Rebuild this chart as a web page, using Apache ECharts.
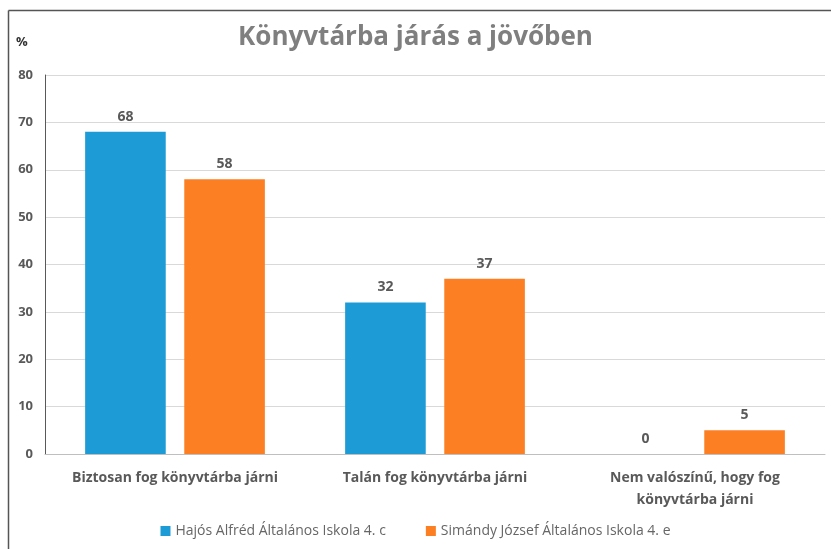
<!DOCTYPE html>
<html><head><meta charset="utf-8">
<script src="https://cdn.jsdelivr.net/npm/echarts@6/dist/echarts.min.js"></script>
<style>html,body{margin:0;padding:0;background:#fff}#c{width:831px;height:549px}</style>
</head><body><div id="c"></div>
<script>
const categories = ['Biztosan fog könyvtárba járni', 'Talán fog könyvtárba járni', 'Nem valószínű, hogy fog\nkönyvtárba járni'];
const seriesNames = ['Hajós Alfréd Általános Iskola 4. c', 'Simándy József Általános Iskola 4. e'];
const hajosValues = [68, 32, 0];
const simandyValues = [58, 37, 5];
const yTicks = [0, 10, 20, 30, 40, 50, 60, 70, 80];

const FONT = '"Open Sans", "Noto Sans", sans-serif';
const chart = echarts.init(document.getElementById('c'));
chart.setOption({
  animation: false,
  textStyle: { fontFamily: FONT },
  title: {
    text: 'Könyvtárba járás a jövőben',
    left: 'center', top: 20,
    textStyle: { fontSize: 26, fontWeight: 'bold', color: '#7f7f7f', fontFamily: FONT }
  },
  graphic: [
    { type: 'line', shape: { x1: 8.5, y1: 10.5, x2: 831, y2: 10.5 }, style: { stroke: '#555', lineWidth: 1.5 } },
    { type: 'line', shape: { x1: 8.5, y1: 10.5, x2: 8.5, y2: 549 }, style: { stroke: '#555', lineWidth: 1.5 } },
    { type: 'text', left: 16, top: 36, style: { text: '%', font: 'bold 13px ' + FONT, fill: '#333' } }
  ],
  legend: {
    bottom: 6, left: 'center', itemWidth: 10, itemHeight: 10, itemGap: 40,
    icon: 'rect',
    textStyle: { fontSize: 14, color: '#666', fontFamily: FONT }
  },
  grid: { left: 45, right: 6, top: 75, bottom: 95, containLabel: false },
  xAxis: {
    type: 'category', data: categories,
    axisLine: { lineStyle: { color: '#bfbfbf' } },
    axisTick: { show: false },
    axisLabel: { interval: 0, hideOverlap: false, fontSize: 14, fontWeight: 'bold', color: '#595959', margin: 13, lineHeight: 22, fontFamily: FONT }
  },
  yAxis: {
    type: 'value', min: yTicks[0], max: yTicks[yTicks.length - 1], interval: 10,
    axisLine: { show: true, lineStyle: { color: '#595959' } },
    axisTick: { show: false },
    splitLine: { lineStyle: { color: '#d9d9d9' } },
    axisLabel: { fontSize: 13, fontWeight: 'bold', color: '#595959', margin: 12, fontFamily: FONT }
  },
  series: [
    {
      name: seriesNames[0], type: 'bar', data: hajosValues,
      barWidth: '31%', barGap: '23%',
      itemStyle: { color: '#1c9bd7' },
      label: { show: true, position: 'top', distance: 8, fontSize: 14, fontWeight: 'bold', color: '#595959', fontFamily: FONT }
    },
    {
      name: seriesNames[1], type: 'bar', data: simandyValues,
      barWidth: '31%',
      itemStyle: { color: '#fd7f23' },
      label: { show: true, position: 'top', distance: 8, fontSize: 14, fontWeight: 'bold', color: '#595959', fontFamily: FONT }
    }
  ]
});
</script></body></html>
